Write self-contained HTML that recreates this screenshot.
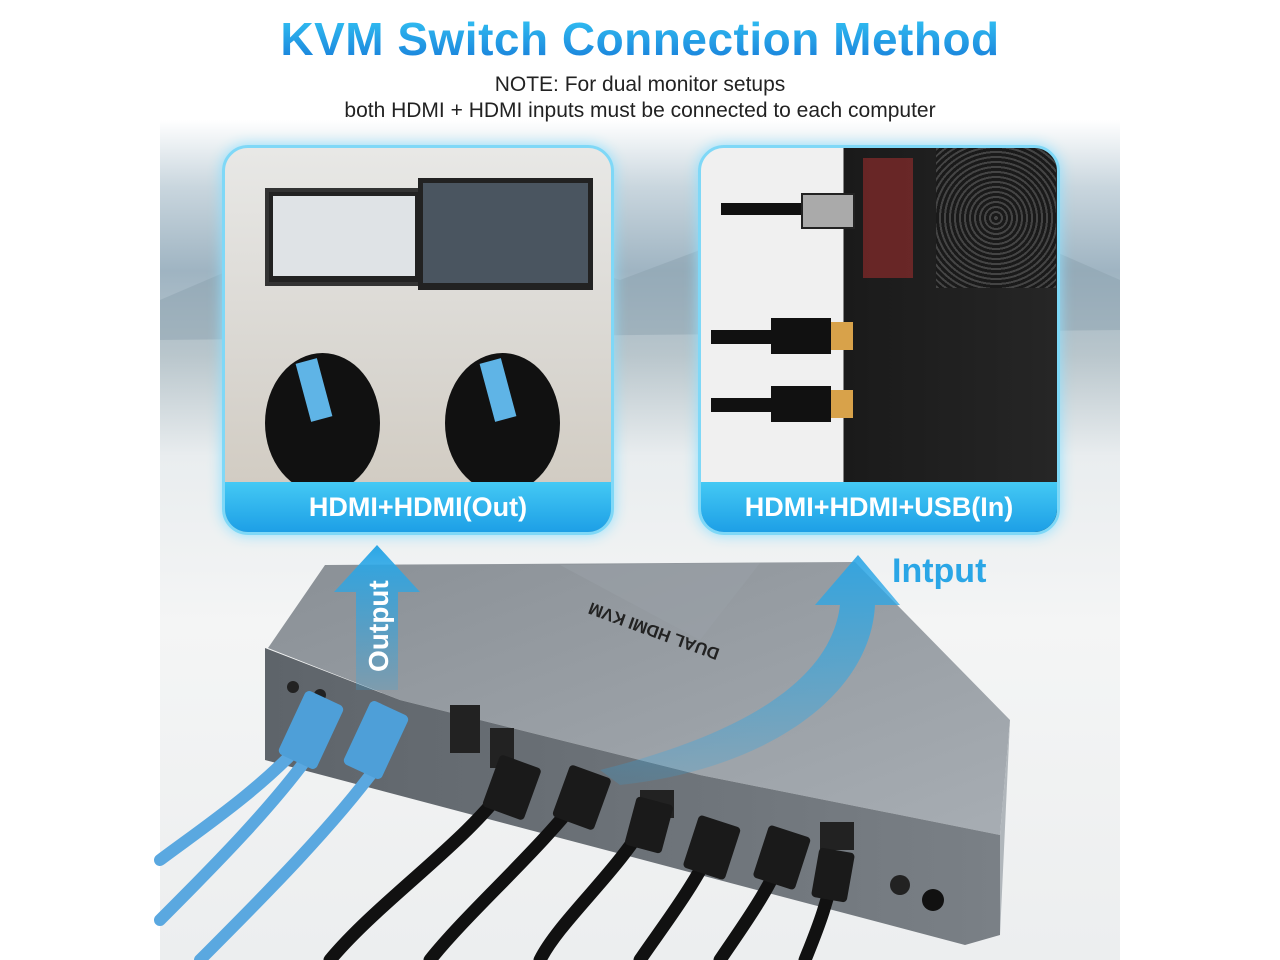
<!DOCTYPE html>
<html><head><meta charset="utf-8">
<style>
body{margin:0;width:1280px;height:960px;background:#fff;overflow:hidden;position:relative;font-family:"Liberation Sans",sans-serif}
.title{position:absolute;top:12px;left:0;width:1280px;text-align:center;font-size:46px;font-weight:bold;color:#1aa3e8;
background:linear-gradient(180deg,#35c8f5,#1679d8);-webkit-background-clip:text;background-clip:text;-webkit-text-fill-color:transparent;letter-spacing:0.5px}
.note{position:absolute;top:72px;left:0;width:1280px;text-align:center;font-size:21px;color:#222;line-height:26px}
.bg{position:absolute;left:160px;top:120px;width:960px;height:840px;
background:linear-gradient(180deg,#fff 0%,#c9d6de 8%,#9fb4c2 18%,#b9c6cc 28%,#e9edef 40%,#f4f5f5 60%,#eceeef 100%)}
.panel{position:absolute;border-radius:26px;border:3px solid #7fd8f7;box-shadow:0 0 14px #8fe0ff;overflow:hidden;background:#ddd}
.lbl{position:absolute;left:0;right:0;bottom:0;height:50px;background:linear-gradient(180deg,#44c9f4,#1d9fe6);color:#fff;font-weight:bold;font-size:27px;text-align:center;line-height:50px}
.arrowtxt{position:absolute;font-weight:bold;color:#2aa6e6;font-size:34px}
</style></head><body>
<div class="bg"></div>
<svg width="1280" height="960" style="position:absolute;left:0;top:0">
 <polygon points="160,300 230,270 300,290 360,250 420,275 500,240 620,280 700,250 800,265 880,230 960,270 1040,245 1120,280 1120,330 160,340" fill="#8aa0ae" opacity=".45"/>
</svg>
<div class="title">KVM Switch Connection Method</div>
<div class="note">NOTE: For dual monitor setups<br>both HDMI + HDMI inputs must be connected to each computer</div>

<div class="panel" style="left:222px;top:145px;width:386px;height:384px;background:linear-gradient(180deg,#e8e8e6,#d8d5cf 60%,#cfc8bd)">
 <div style="position:absolute;left:40px;top:40px;width:150px;height:90px;background:#222;border:4px solid #333"><div style="margin:4px;height:80px;background:#dfe3e6"></div></div>
 <div style="position:absolute;left:193px;top:30px;width:175px;height:112px;background:#222"><div style="margin:5px;height:100px;background:#4a5560"></div></div>
 <div style="position:absolute;left:40px;top:205px;width:115px;height:140px;border-radius:50%;background:#111;"></div>
 <div style="position:absolute;left:220px;top:205px;width:115px;height:140px;border-radius:50%;background:#111;"></div>
 <div style="position:absolute;left:78px;top:212px;width:22px;height:60px;background:#5fb4e6;transform:rotate(-15deg)"></div>
 <div style="position:absolute;left:262px;top:212px;width:22px;height:60px;background:#5fb4e6;transform:rotate(-15deg)"></div>
 <div class="lbl">HDMI+HDMI(Out)</div>
</div>

<div class="panel" style="left:698px;top:145px;width:356px;height:384px;background:linear-gradient(90deg,#f0f0f0 0,#f0f0f0 40%,#1a1a1a 40%,#262626 100%)">
 <div style="position:absolute;left:20px;top:55px;width:80px;height:12px;background:#111"></div>
 <div style="position:absolute;left:100px;top:45px;width:50px;height:32px;background:#aaa;border:2px solid #222"></div>
 <div style="position:absolute;left:10px;top:182px;width:90px;height:14px;background:#111"></div>
 <div style="position:absolute;left:70px;top:170px;width:60px;height:36px;background:#111"></div>
 <div style="position:absolute;left:130px;top:174px;width:22px;height:28px;background:#d8a24a"></div>
 <div style="position:absolute;left:10px;top:250px;width:90px;height:14px;background:#111"></div>
 <div style="position:absolute;left:70px;top:238px;width:60px;height:36px;background:#111"></div>
 <div style="position:absolute;left:130px;top:242px;width:22px;height:28px;background:#d8a24a"></div>
 <div style="position:absolute;left:162px;top:10px;width:50px;height:120px;background:#b43030;opacity:.5"></div>
 <div style="position:absolute;left:235px;top:0;width:120px;height:140px;background:repeating-radial-gradient(circle,#444 0 2px,#1a1a1a 2px 5px)"></div>
 <div class="lbl">HDMI+HDMI+USB(In)</div>
</div>

<svg width="1280" height="960" style="position:absolute;left:0;top:0">
 <defs>
  <linearGradient id="top" x1="0" y1="0" x2="1" y2="1"><stop offset="0" stop-color="#8a9096"/><stop offset="1" stop-color="#a7adb3"/></linearGradient>
  <linearGradient id="front" x1="0" y1="0" x2="1" y2="0"><stop offset="0" stop-color="#5e646a"/><stop offset="1" stop-color="#7a8086"/></linearGradient>
  <linearGradient id="arr" x1="0" y1="1" x2="0" y2="0"><stop offset="0" stop-color="#2aa6e6" stop-opacity=".2"/><stop offset="1" stop-color="#2aa6e6"/></linearGradient>
 </defs>
 <polygon points="325,565 855,562 1010,720 1000,835 700,775 400,700 268,648" fill="url(#top)"/>
 <polygon points="560,565 760,563 700,640" fill="#9aa0a6" opacity=".6"/>
 <polygon points="265,648 400,700 700,775 1000,835 1000,935 965,945 265,760" fill="url(#front)"/>
 <polygon points="1000,835 1010,720 1000,935" fill="#b0b6bb"/>
 <rect x="450" y="705" width="30" height="48" fill="#222"/>
 <rect x="490" y="728" width="24" height="40" fill="#222"/>
 <rect x="640" y="790" width="34" height="28" fill="#222"/>
 <rect x="820" y="822" width="34" height="28" fill="#222"/>
 <circle cx="900" cy="885" r="10" fill="#222"/>
 <circle cx="933" cy="900" r="11" fill="#111"/>
 <circle cx="293" cy="687" r="6" fill="#222"/><circle cx="320" cy="695" r="6" fill="#222"/>
 <text x="600" y="652" fill="#222" font-size="17" font-weight="bold" transform="rotate(200 660 640)" font-family="Liberation Sans">DUAL HDMI KVM</text>
 <g stroke="#111" stroke-width="13" fill="none" stroke-linecap="round">
  <path d="M510,780 C470,840 380,900 330,960"/>
  <path d="M585,790 C540,850 470,910 430,960"/>
  <path d="M650,815 C620,870 560,920 540,960"/>
  <path d="M720,830 C700,880 660,930 640,960"/>
  <path d="M785,850 C770,890 740,930 720,960"/>
  <path d="M835,860 C830,900 815,935 805,960"/>
 </g>
 <g fill="#1a1a1a">
  <rect x="490" y="760" width="44" height="55" rx="4" transform="rotate(20 512 787)"/>
  <rect x="560" y="770" width="44" height="55" rx="4" transform="rotate(20 582 797)"/>
  <rect x="630" y="800" width="38" height="50" rx="4" transform="rotate(15 649 825)"/>
  <rect x="690" y="820" width="44" height="55" rx="4" transform="rotate(18 712 847)"/>
  <rect x="760" y="830" width="44" height="55" rx="4" transform="rotate(18 782 857)"/>
  <rect x="815" y="850" width="36" height="50" rx="4" transform="rotate(10 833 875)"/>
 </g>
 <g stroke="#5aa8e0" stroke-width="12" fill="none" stroke-linecap="round">
  <path d="M320,740 C280,800 210,870 160,920"/>
  <path d="M385,755 C340,820 260,900 200,960"/>
  <path d="M305,740 C260,790 200,830 160,860"/>
 </g>
 <rect x="290" y="695" width="42" height="70" rx="5" fill="#4e9fd8" transform="rotate(25 311 730)"/>
 <rect x="355" y="705" width="42" height="70" rx="5" fill="#4e9fd8" transform="rotate(25 376 740)"/>
 <polygon points="377,545 420,592 398,592 398,690 356,690 356,592 334,592" fill="url(#arr)"/>
 <text x="388" y="672" fill="#fff" font-size="28" font-weight="bold" transform="rotate(-90 388 672)" font-family="Liberation Sans">Output</text>
 <path d="M600,770 C720,740 830,690 840,605 L815,605 L858,555 L900,605 L875,605 C870,700 760,770 620,785 Z" fill="url(#arr)" opacity=".9"/>
</svg>
<div class="arrowtxt" style="left:892px;top:552px">Intput</div>
</body></html>
